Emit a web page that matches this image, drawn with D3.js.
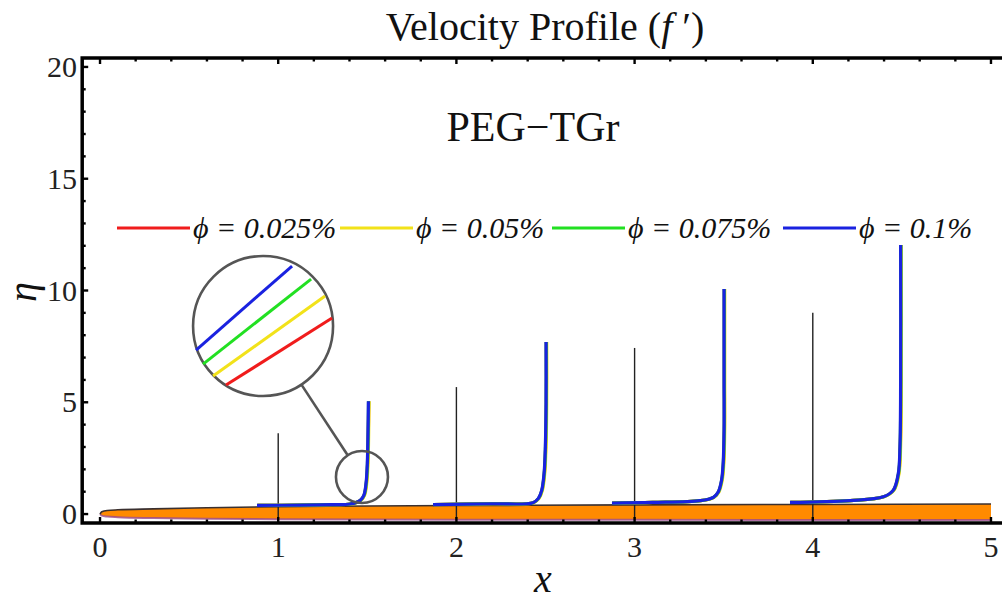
<!DOCTYPE html>
<html><head><meta charset="utf-8">
<script src="https://cdnjs.cloudflare.com/ajax/libs/d3/7.8.5/d3.min.js"></script>
<style>
body{margin:0;background:#fff;}
svg{display:block;}
svg text{font-family:"Liberation Serif","Times New Roman",Times,serif;}
</style></head><body>
<svg id="chart" width="1002" height="604"></svg>
<script>
// ---- data ----
var seriesNames  = ["ϕ = 0.025%", "ϕ = 0.05%", "ϕ = 0.075%", "ϕ = 0.1%"];
var seriesColors = ["#f01c1c", "#f2e21a", "#22e022", "#1a22e0"];
var seriesLag    = [0.002, 0.004, 0.001, 0];   // tiny x offsets, blue on top hides the rest

var xTicks = [0, 1, 2, 3, 4, 5];
var yTicks = [0, 5, 10, 15, 20];

// thin reference lines at each station
var stations = [1, 2, 3, 4];
var stationTop = [3.62, 5.68, 7.43, 9.0];

// velocity profiles (x, eta)
var profile1 = [[0.881,0.39],[1.122,0.40],[1.30,0.42],[1.403,0.45],[1.459,0.6],[1.481,0.85],[1.493,1.39],[1.5,2.28],[1.504,3.76],[1.506,5.05]];
var profile2 = [[1.869,0.42],[2.2,0.46],[2.43,0.51],[2.46,0.7],[2.479,1.07],[2.492,1.83],[2.499,3.01],[2.503,5.0],[2.503,7.7]];
var profile3 = [[2.873,0.49],[3.1,0.52],[3.367,0.6],[3.442,0.75],[3.47,1.0],[3.488,1.52],[3.497,2.28],[3.502,3.76],[3.502,6.0],[3.502,10.07]];
var profile4 = [[3.872,0.52],[4.209,0.6],[4.396,0.77],[4.452,1.07],[4.48,1.82],[4.489,3.01],[4.493,6.0],[4.493,12.04]];
var profiles = [profile1, profile2, profile3, profile4];

// orange wedge along the wall
var wedgeX   = [0, 0.01, 0.04, 0.1, 0.3, 0.6, 1, 1.5, 2, 3, 4, 5];
var wedgeTop = [0, 0.1, 0.16, 0.19, 0.23, 0.28, 0.33, 0.36, 0.38, 0.41, 0.43, 0.45];
var wedgeBot = [0, -0.07, -0.11, -0.14, -0.18, -0.21, -0.23, -0.24, -0.25, -0.26, -0.27, -0.27];

// magnifier: small circle, big circle, segments in unit-circle coords
var lensSmall = {x: 1.47, y: 1.66, r: 26};
var lensBig = {x: 0.915, y: 8.41, r: 70};
var lensSegments = [
  [[-0.529,-0.843],[0.986,0.114]],
  [[-0.714,-0.714],[0.886,0.429]],
  [[-0.857,-0.543],[0.686,0.671]],
  [[-0.957,-0.343],[0.414,0.857]]
];

// ---- layout ----
var svg = d3.select("#chart");
var serif = "Liberation Serif, Times New Roman, serif";
var x = d3.scaleLinear().domain([-0.1, 5.1]).range([82.2, 1008.8]);
var y = d3.scaleLinear().domain([-0.4, 20.4]).range([523, 58]);

// wedge
var wedge = wedgeX.map(function(d, i){ return {x: d, t: wedgeTop[i], b: wedgeBot[i]}; });
svg.append("path").datum(wedge)
  .attr("d", d3.area().x(d => x(d.x)).y0(d => y(d.b)).y1(d => y(d.t)).curve(d3.curveMonotoneX))
  .attr("fill", "#ff8a00");
svg.append("path").datum(wedge)
  .attr("d", d3.line().x(d => x(d.x)).y(d => y(d.b)).curve(d3.curveMonotoneX))
  .attr("fill", "none").attr("stroke", "#9a4a8c").attr("stroke-width", 2).attr("opacity", 0.8);
svg.append("path").datum(wedge)
  .attr("d", d3.line().x(d => x(d.x)).y(d => y(d.t)).curve(d3.curveMonotoneX))
  .attr("fill", "none").attr("stroke", "#3a3030").attr("stroke-width", 1.6);

// station lines
svg.selectAll(".station").data(stations).enter().append("line")
  .attr("x1", d => x(d)).attr("x2", d => x(d))
  .attr("y1", y(-0.25)).attr("y2", (d, i) => y(stationTop[i]))
  .attr("stroke", "#222").attr("stroke-width", 1.4);

// profiles for each phi
var line = d3.line().x(d => x(d[0])).y(d => y(d[1])).curve(d3.curveCatmullRom.alpha(0.5));
seriesNames.forEach(function(s, k){
  svg.append("g").selectAll("path").data(profiles).enter().append("path")
    .attr("d", p => line(p.map(d => [d[0] + seriesLag[k], d[1]])))
    .attr("fill", "none").attr("stroke", seriesColors[k]).attr("stroke-width", 3.2);
});

// magnifier
var lensStroke = "#555";
svg.append("circle").attr("cx", x(lensSmall.x)).attr("cy", y(lensSmall.y)).attr("r", lensSmall.r)
  .attr("fill", "none").attr("stroke", lensStroke).attr("stroke-width", 2.6);
svg.append("circle").attr("cx", x(lensBig.x)).attr("cy", y(lensBig.y)).attr("r", lensBig.r)
  .attr("fill", "#fff").attr("stroke", lensStroke).attr("stroke-width", 2.6);
(function(){
  var bx = x(lensBig.x), by = y(lensBig.y), sx = x(lensSmall.x), sy = y(lensSmall.y);
  var dx = sx - bx, dy = sy - by, dist = Math.sqrt(dx*dx + dy*dy);
  svg.append("line")
    .attr("x1", bx + dx/dist*lensBig.r).attr("y1", by + dy/dist*lensBig.r)
    .attr("x2", sx - dx/dist*lensSmall.r).attr("y2", sy - dy/dist*lensSmall.r)
    .attr("stroke", lensStroke).attr("stroke-width", 2.6);
  var u = d3.scaleLinear().domain([-1, 1]).range([bx - lensBig.r, bx + lensBig.r]);
  var v = d3.scaleLinear().domain([-1, 1]).range([by + lensBig.r, by - lensBig.r]);
  svg.append("g").selectAll("line").data(lensSegments).enter().append("line")
    .attr("x1", d => u(d[0][0])).attr("y1", d => v(d[0][1]))
    .attr("x2", d => u(d[1][0])).attr("y2", d => v(d[1][1]))
    .attr("stroke", (d, i) => seriesColors[i]).attr("stroke-width", 3);
})();

// frame
var x0 = x.range()[0], x1 = x.range()[1], y0 = y.range()[0], y1 = y.range()[1];
svg.append("rect").attr("x", x0).attr("y", y1).attr("width", x1 - x0).attr("height", y0 - y1)
  .attr("fill", "none").attr("stroke", "#000").attr("stroke-width", 3.5);

// ticks (inward, Mathematica style)
var xMinor = d3.range(0, 5.01, 0.2), yMinor = d3.range(0, 20.01, 1);
function isMajor(v, step){ return Math.abs(v/step - Math.round(v/step)) < 1e-6; }
var tickG = svg.append("g").attr("stroke", "#000").attr("stroke-width", 2.4);
xMinor.forEach(function(v){
  var len = isMajor(v, 1) ? 6 : 3.5;
  tickG.append("line").attr("x1", x(v)).attr("x2", x(v)).attr("y1", y0).attr("y2", y0 - len);
  tickG.append("line").attr("x1", x(v)).attr("x2", x(v)).attr("y1", y1).attr("y2", y1 + len);
});
yMinor.forEach(function(v){
  var len = isMajor(v, 5) ? 6 : 3.5;
  tickG.append("line").attr("x1", x0).attr("x2", x0 + len).attr("y1", y(v)).attr("y2", y(v));
});

// tick labels
svg.append("g").selectAll("text").data(xTicks).enter().append("text")
  .attr("x", d => x(d)).attr("y", 557).attr("text-anchor", "middle")
  .attr("font-family", serif).attr("font-size", 30).attr("fill", "#222").text(d => d);
svg.append("g").selectAll("text").data(yTicks).enter().append("text")
  .attr("x", 77).attr("y", d => y(d) + 10).attr("text-anchor", "end")
  .attr("font-family", serif).attr("font-size", 30).attr("fill", "#222").text(d => d);

// titles
var title = svg.append("text").attr("x", 545).attr("y", 40).attr("text-anchor", "middle")
  .attr("font-family", serif).attr("font-size", 40).attr("fill", "#111");
title.append("tspan").text("Velocity Profile (");
title.append("tspan").attr("font-style", "italic").text("f");
title.append("tspan").text(" ′)");

svg.append("text").attr("x", 533).attr("y", 141).attr("text-anchor", "middle")
  .attr("font-family", serif).attr("font-size", 42).attr("fill", "#111").text("PEG−TGr");

svg.append("text").attr("x", 543).attr("y", 592).attr("text-anchor", "middle")
  .attr("font-family", serif).attr("font-size", 40).attr("font-style", "italic").attr("fill", "#111").text("x");
svg.append("text").attr("transform", "translate(36,292) rotate(-90)").attr("text-anchor", "middle")
  .attr("font-family", serif).attr("font-size", 40).attr("font-style", "italic").attr("fill", "#111").text("η");

// legend
var legendX = [117, 340, 552, 783];
var leg = svg.append("g").selectAll("g").data(seriesNames).enter().append("g")
  .attr("transform", (d, i) => "translate(" + legendX[i] + ",228)");
leg.append("line").attr("x1", 0).attr("x2", 73).attr("y1", 0).attr("y2", 0)
  .attr("stroke", (d, i) => seriesColors[i]).attr("stroke-width", 3);
leg.append("text").attr("x", 76).attr("y", 10).attr("font-family", serif)
  .attr("font-size", 30).attr("font-style", "italic").attr("fill", "#111").text(d => d);
</script>
</body></html>
